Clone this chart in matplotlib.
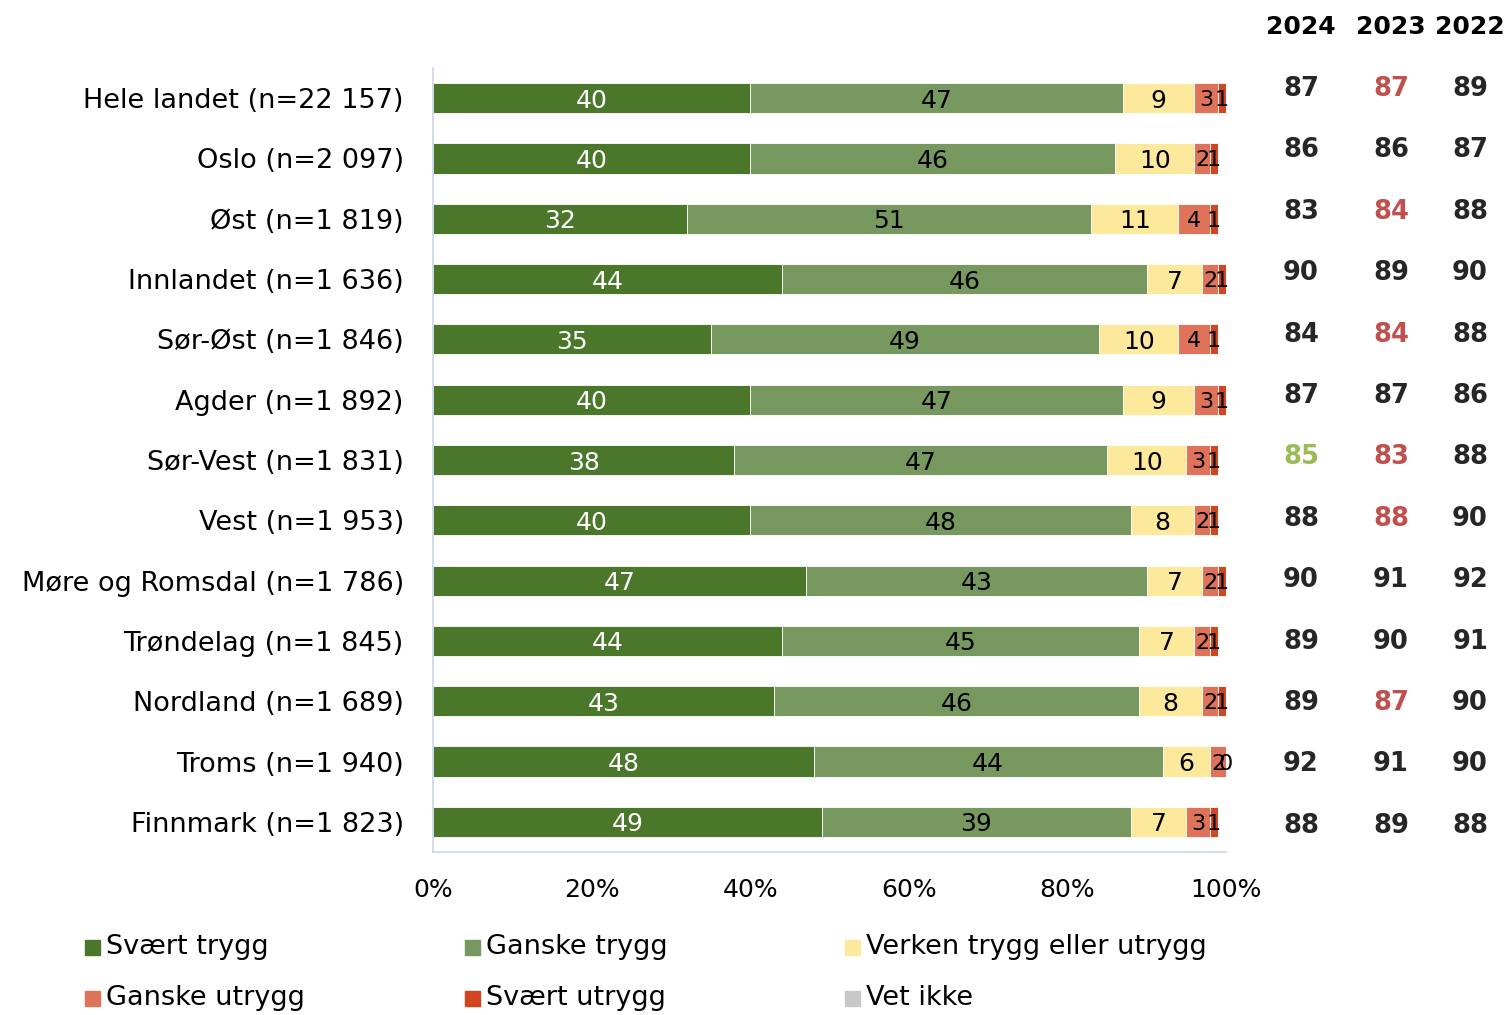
import numpy as np
import matplotlib
matplotlib.use('Agg')
import matplotlib.pyplot as plt
from matplotlib.patches import Rectangle

plt.rcParams['font.family'] = ['DejaVu Sans']

regions = ['Hele landet (n=22 157)', 'Oslo (n=2 097)', 'Øst (n=1 819)', 'Innlandet (n=1 636)',
           'Sør-Øst (n=1 846)', 'Agder (n=1 892)', 'Sør-Vest (n=1 831)', 'Vest (n=1 953)',
           'Møre og Romsdal (n=1 786)', 'Trøndelag (n=1 845)', 'Nordland (n=1 689)',
           'Troms (n=1 940)', 'Finnmark (n=1 823)']

svaert_trygg = [40, 40, 32, 44, 35, 40, 38, 40, 47, 44, 43, 48, 49]
ganske_trygg = [47, 46, 51, 46, 49, 47, 47, 48, 43, 45, 46, 44, 39]
verken = [9, 10, 11, 7, 10, 9, 10, 8, 7, 7, 8, 6, 7]
ganske_utrygg = [3, 2, 4, 2, 4, 3, 3, 2, 2, 2, 2, 2, 3]
svaert_utrygg = [1, 1, 1, 1, 1, 1, 1, 1, 1, 1, 1, 0, 1]
vet_ikke = [0, 0, 0, 0, 0, 0, 0, 0, 0, 0, 0, 0, 0]

years = ['2024', '2023', '2022']
v2024 = [87, 86, 83, 90, 84, 87, 85, 88, 90, 89, 89, 92, 88]
v2023 = [87, 86, 84, 89, 84, 87, 83, 88, 91, 90, 87, 91, 89]
v2022 = [89, 87, 88, 90, 88, 86, 88, 90, 92, 91, 90, 90, 88]
# k = black, r = significantly lower, g = significantly higher
c2024 = ['k', 'k', 'k', 'k', 'k', 'k', 'g', 'k', 'k', 'k', 'k', 'k', 'k']
c2023 = ['r', 'k', 'r', 'k', 'r', 'k', 'r', 'r', 'k', 'k', 'r', 'k', 'k']
c2022 = ['k'] * 13

series = [svaert_trygg, ganske_trygg, verken, ganske_utrygg, svaert_utrygg, vet_ikke]
names = ['Svært trygg', 'Ganske trygg', 'Verken trygg eller utrygg',
         'Ganske utrygg', 'Svært utrygg', 'Vet ikke']
colors = ['#4A7729', '#77985E', '#FCE99C', '#DE735A', '#D1451F', '#C8C8C8']
txtcol = ['white', 'black', 'black', 'black', 'black', 'black']
numcol = {'k': '#262626', 'r': '#C0504D', 'g': '#9BBB59'}

W, H = 1511, 1015
fig = plt.figure(figsize=(W / 100, H / 100), dpi=100)
ax = fig.add_axes([433 / W, 1 - 852 / H, (1226 - 433) / W, (852 - 68) / H])

y = np.arange(len(regions))
left = np.zeros(len(regions))
for vals, nm, col, tc in zip(series, names, colors, txtcol):
    vals = np.array(vals, dtype=float)
    ax.barh(y, vals, left=left, height=0.5, color=col, edgecolor='white', linewidth=0.6, label=nm)
    if nm != 'Vet ikke':
        for yi, (l, v) in enumerate(zip(left, vals)):
            fs = 18 if v >= 5 else 16
            ax.text(l + v / 2, yi, '%d' % v, ha='center', va='center_baseline', fontsize=fs, color=tc)
    left += vals

ax.set_xlim(0, 100)
ax.set_ylim(len(regions) - 0.5, -0.5)
ax.set_yticks(y)
ax.set_yticklabels(regions, fontsize=19.5)
ax.set_xticks([0, 20, 40, 60, 80, 100])
ax.set_xticklabels(['0%', '20%', '40%', '60%', '80%', '100%'], fontsize=18)
ax.tick_params(axis='y', length=0, pad=21)
ax.tick_params(axis='x', length=0, pad=19)
for s in ['top', 'right']:
    ax.spines[s].set_visible(False)
for s in ['left', 'bottom']:
    ax.spines[s].set_color('#C9D6E6')
    ax.spines[s].set_linewidth(1.2)

# year columns
xs = [1301, 1391, 1470]
for x, yr in zip(xs, years):
    fig.text(x / W, 1 - 27 / H, yr, ha='center', va='center', fontsize=18, fontweight='bold', color='black')
for x, vals, cols in zip(xs, [v2024, v2023, v2022], [c2024, c2023, c2022]):
    for i, (v, c) in enumerate(zip(vals, cols)):
        py = 89 + i * 61.4
        fig.text(x / W, 1 - py / H, str(v), ha='center', va='center', fontsize=18.5,
                 fontweight='bold', color=numcol[c])

# legend
lx = [85, 465, 845]
ly = [947, 998]
for k, (nm, col) in enumerate(zip(names, colors)):
    cx = lx[k % 3]
    cy = ly[k // 3]
    fig.patches.append(Rectangle((cx / W, 1 - (cy + 8) / H), 15 / W, 15 / H,
                                 transform=fig.transFigure, color=col))
    fig.text((cx + 21) / W, 1 - cy / H, nm, ha='left', va='center', fontsize=19.5)

fig.savefig('out.png', dpi=100)
